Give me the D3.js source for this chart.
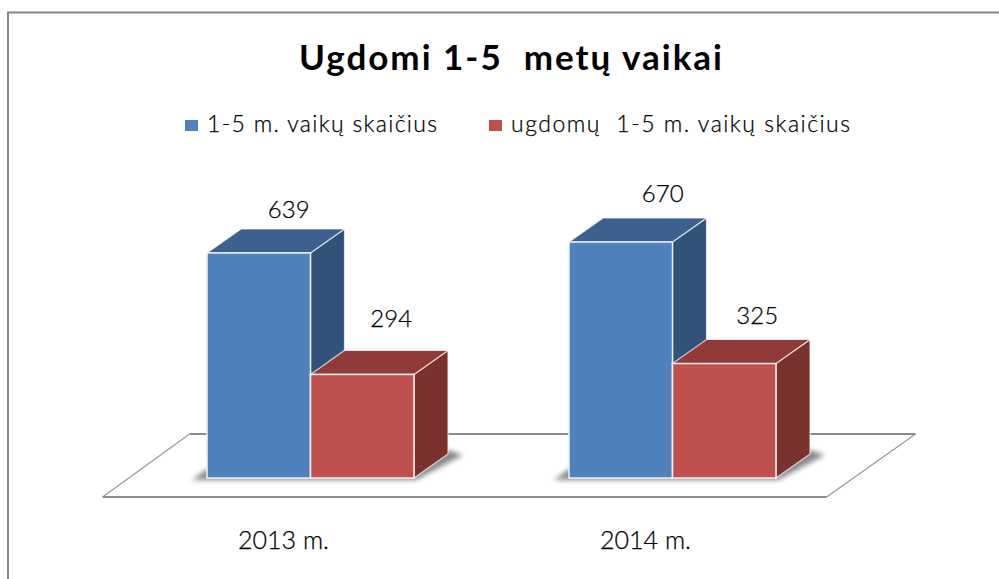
<!DOCTYPE html>
<html>
<head>
<meta charset="utf-8">
<script src="https://cdn.jsdelivr.net/npm/d3@7"></script>
<style>
	html, body { margin: 0; padding: 0; background: #fff; overflow: hidden; }
	text { font-family: Lato, "Noto Sans", sans-serif; fill: #000; white-space: pre; }
	.thin { font-weight: 300; stroke: #000; stroke-width: 0.25; }
</style>
</head>
<body>
<svg id="chart" width="999" height="579"></svg>
<script>
const categories = ["2013 m.", "2014 m."];
const seriesNames = ["1-5 m. vaikų skaičius", "ugdomų  1-5 m. vaikų skaičius"];
const childrenAll = [639, 670];
const childrenEducated = [294, 325];
const titleText = "Ugdomi 1-5  metų vaikai";

// front, top and side colours per series
const faceColors = [
	{ front: "#4f81bd", top: "#3d618e", side: "#325379" },
	{ front: "#c0504d", top: "#903b39", side: "#7a322f" }
];
// label nudges, same order as the bars
const labelNudge = [[13, 11], [12, 23], [25, 16], [16, 16]];

const depthX = 34, depthY = 24;
const baseY = 478;

const svg = d3.select("#chart");

const x = d3.scaleBand().domain(categories).range([129.5, 853.5]);
const inner = d3.scaleBand().domain([0, 1]).range([0, 207]);
const y = d3.scaleLinear().domain([0, 670]).range([baseY, 242]);
const groupLeft = c => x(c) + x.bandwidth() / 2 - inner.bandwidth();

const defs = svg.append("defs");
defs.append("filter").attr("id", "soft").attr("x", "-20%").attr("y", "-40%").attr("width", "140%").attr("height", "180%")
	.append("feGaussianBlur").attr("stdDeviation", 2.5);

// frame, only left and top are inside the crop
svg.append("path")
	.attr("d", "M8,579V12.5H999")
	.attr("fill", "none").attr("stroke", "#868686").attr("stroke-width", 2);

svg.append("text")
	.attr("x", 510.5).attr("y", 70)
	.attr("text-anchor", "middle")
	.attr("font-size", 35).attr("font-weight", 700)
	.attr("textLength", 423).attr("lengthAdjust", "spacing")
	.text(titleText);

// legend
const legendX = [185, 489];
const legendLen = [230, 339];
seriesNames.forEach((name, i) => {
	svg.append("rect")
		.attr("x", legendX[i]).attr("y", 120).attr("width", 13).attr("height", 11)
		.attr("fill", faceColors[i].front);
	svg.append("text")
		.attr("class", "thin")
		.attr("x", legendX[i] + 22).attr("y", 132)
		.attr("font-size", 23)
		.attr("textLength", legendLen[i]).attr("lengthAdjust", "spacing")
		.text(name);
});

// floor
const floorFront = 497, floorBack = 434;
const floorSlant = (floorFront - baseY) * depthX / depthY;
const floorL = x.range()[0] - floorSlant, floorR = x.range()[1] - floorSlant;
const floorLine = d3.line();
svg.append("path")
	.attr("d", floorLine([[floorL, floorFront], [floorL + 87, floorBack]]) + floorLine([[floorR, floorFront], [floorL + 813, floorBack]]))
	.attr("fill", "none").attr("stroke", "#999").attr("stroke-width", 1.2);
svg.append("path")
	.attr("d", floorLine([[floorL, floorFront], [floorR, floorFront]]) + floorLine([[floorL + 87, floorBack], [floorL + 813, floorBack]]))
	.attr("fill", "none").attr("stroke", "#8c8c8c").attr("stroke-width", 2.2);

// shadow under each cluster
categories.forEach(c => {
	const l = groupLeft(c), r = l + inner.bandwidth() * 2;
	svg.append("path")
		.attr("d", d3.line()([[l - 15, baseY + 2], [r + 2, baseY + 2], [r + depthX + 15, baseY - depthY + 1], [r + depthX, baseY - depthY - 4], [l, baseY - 9]]))
		.attr("fill", "#8a8a8a").attr("filter", "url(#soft)");
});

const bars = [];
categories.forEach((c, ci) => {
	[childrenAll, childrenEducated].forEach((values, si) => {
		bars.push({ c, si, v: values[ci], l: groupLeft(c) + inner(si), w: inner.bandwidth() });
	});
});

const line = d3.line();
const bar = svg.selectAll("g.bar").data(bars).join("g").attr("class", "bar");

bar.append("path")
	.attr("d", d => { const t = y(d.v), r = d.l + d.w; return line([[r, t], [r + depthX, t - depthY], [r + depthX, baseY - depthY], [r, baseY]]) + "Z"; })
	.attr("fill", d => faceColors[d.si].side)
	.attr("stroke", "#fff").attr("stroke-opacity", 0.7).attr("stroke-width", 1.2);
bar.append("path")
	.attr("d", d => { const t = y(d.v), r = d.l + d.w; return line([[d.l, t], [d.l + depthX, t - depthY], [r + depthX, t - depthY], [r, t]]) + "Z"; })
	.attr("fill", d => faceColors[d.si].top)
	.attr("stroke", "#fff").attr("stroke-opacity", 0.7).attr("stroke-width", 1.2);
bar.append("rect")
	.attr("x", d => d.l).attr("y", d => y(d.v))
	.attr("width", d => d.w).attr("height", d => baseY - y(d.v))
	.attr("fill", d => faceColors[d.si].front)
	.attr("stroke", "#f2f2f2").attr("stroke-width", 1.5);

bar.append("text")
	.attr("class", "thin")
	.attr("x", (d, i) => d.l + d.w / 2 + depthX / 2 + labelNudge[i][0])
	.attr("y", (d, i) => y(d.v) - depthY - labelNudge[i][1])
	.attr("text-anchor", "middle")
	.attr("font-size", 24)
	.text(d => d.v);

// category labels
svg.selectAll("text.cat").data(categories).join("text")
	.attr("class", "cat thin")
	.attr("x", c => x(c) + x.bandwidth() / 2 - 27)
	.attr("y", 549)
	.attr("text-anchor", "middle")
	.attr("font-size", 25)
	.text(c => c);
</script>
</body>
</html>
